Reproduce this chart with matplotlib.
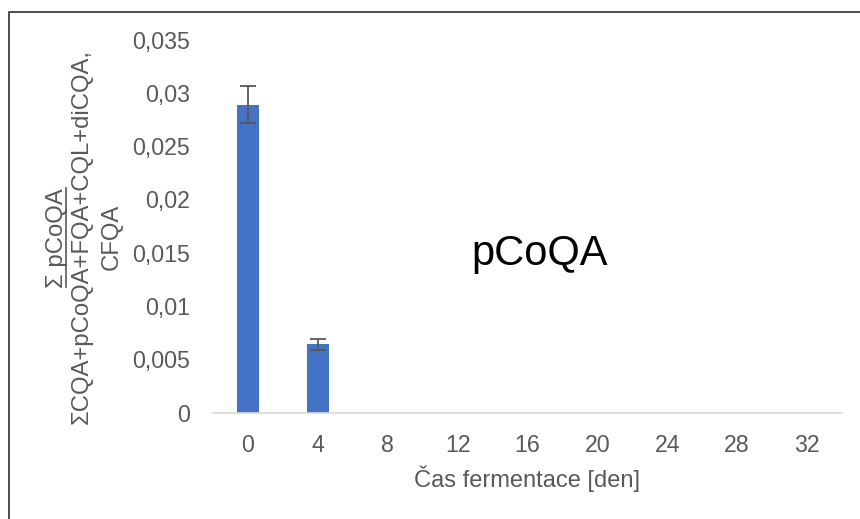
import matplotlib
matplotlib.use("Agg")
import matplotlib.pyplot as plt
from matplotlib.lines import Line2D
import numpy as np

plt.rcParams['font.family'] = ['Liberation Sans', 'DejaVu Sans']

days = [0, 4, 8, 12, 16, 20, 24, 28, 32]
ratio = [0.0289, 0.0064, 0, 0, 0, 0, 0, 0, 0]
ratio_err = [0.0017, 0.00055, 0, 0, 0, 0, 0, 0, 0]
yticks = [0, 0.005, 0.01, 0.015, 0.02, 0.025, 0.03, 0.035]

W, H = 860, 519
fig = plt.figure(figsize=(W / 100, H / 100), dpi=100)
ax = fig.add_axes([213 / W, 1 - 412.7 / H, (842 - 213) / W, (412.7 - 39.5) / H])

x = np.arange(len(days))
ax.bar(x, ratio, width=0.31, color='#4472C4', zorder=2)
errs = [(i, v, e) for i, (v, e) in enumerate(zip(ratio, ratio_err)) if v > 0]
ax.errorbar([i for i, _, _ in errs], [v for _, v, _ in errs],
            yerr=[e for _, _, e in errs], fmt='none', ecolor='#595959',
            elinewidth=1.3, capsize=6, capthick=1.3, zorder=3)

ax.set_xlim(-0.5, len(days) - 0.5)
ax.set_ylim(0, 0.035)
ax.set_xticks(x)
ax.set_xticklabels([str(d) for d in days])
ax.set_yticks(yticks)
ax.set_yticklabels(['0' if t == 0 else f"{t:g}".replace('.', ',') for t in yticks])
ax.tick_params(axis='both', length=0, labelsize=16.7, labelcolor='#595959')
ax.tick_params(axis='y', pad=16.5)
ax.tick_params(axis='x', pad=15.3)
for side in ['top', 'right', 'left']:
    ax.spines[side].set_visible(False)
ax.spines['bottom'].set_color('#d9d9d9')
ax.spines['bottom'].set_linewidth(1.2)

ax.set_xlabel('Čas fermentace [den]', fontsize=17, color='#595959', labelpad=6)

ax.text(0.519, 0.425, 'pCoQA', transform=ax.transAxes, fontsize=30,
        color='black', ha='center', va='center')

# y-axis label drawn as a fraction (baseline anchored, rotated)
lab = dict(fontsize=17.2, color='#595959', rotation=90, rotation_mode='anchor',
           ha='center', va='baseline')
fig.text(63 / W, 1 - 238 / H, 'Σ pCoQA', **lab)
fig.add_artist(Line2D([66 / W, 66 / W], [1 - 188 / H, 1 - 287 / H],
                      color='#595959', lw=1.2, transform=fig.transFigure))
fig.text(88 / W, 1 - 236.5 / H, 'ΣCQA+pCoQA+FQA+CQL+diCQA,', **lab)
fig.text(118 / W, 1 - 236.5 / H, 'CFQA', **lab)

# chart frame
fig.add_artist(Line2D([8.5 / W, 8.5 / W, 1], [0, 1 - 11.5 / H, 1 - 11.5 / H],
                      color='#404040', lw=1.3, transform=fig.transFigure))

fig.savefig('out.png', dpi=100)
